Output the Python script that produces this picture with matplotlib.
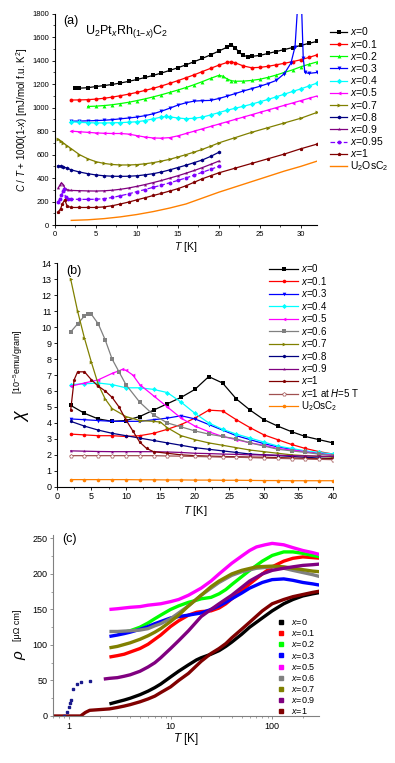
import matplotlib
matplotlib.use("Agg")
import matplotlib.pyplot as plt
from matplotlib.ticker import MultipleLocator, NullFormatter, LogLocator

plt.rcParams["font.family"] = ["Liberation Sans", "DejaVu Sans"]
plt.rcParams["mathtext.fontset"] = "custom"
plt.rcParams["mathtext.rm"] = "Liberation Sans"
plt.rcParams["mathtext.it"] = "Liberation Sans:italic"
plt.rcParams["mathtext.bf"] = "Liberation Sans:bold"

# ---------------------------------------------------------------------------
# (a) specific heat, C/T + 1000(1-x)
# ---------------------------------------------------------------------------
cp_T_x0 = [2.5, 3, 4, 5, 6, 7, 8, 9, 10, 11, 12, 13, 14, 15, 16, 17, 18, 19, 20, 21, 21.5, 22, 22.5, 23, 23.5, 24, 25, 26, 27, 28, 29, 30, 31, 32]
cp_x0 = [1165, 1166, 1170, 1180, 1188, 1198, 1210, 1224, 1240, 1257, 1275, 1295, 1317, 1340, 1365, 1392, 1420, 1450, 1482, 1515, 1535, 1510, 1470, 1445, 1435, 1437, 1445, 1462, 1478, 1495, 1512, 1530, 1548, 1565]
cp_T_x01 = [2, 3, 4, 5, 6, 7, 8, 9, 10, 11, 12, 13, 14, 15, 16, 17, 18, 19, 20, 21, 21.5, 22, 23, 24, 25, 26, 27, 28, 29, 30, 31, 32]
cp_x01 = [1065, 1066, 1068, 1073, 1080, 1090, 1102, 1115, 1130, 1147, 1165, 1185, 1207, 1230, 1255, 1280, 1308, 1335, 1362, 1385, 1390, 1382, 1355, 1340, 1343, 1352, 1365, 1378, 1392, 1408, 1428, 1450]
cp_T_x02 = [4, 5, 6, 7, 8, 9, 10, 11, 12, 13, 14, 15, 16, 17, 18, 19, 20, 20.5, 21, 21.5, 22, 23, 24, 25, 26, 27, 28, 29, 30, 31, 32]
cp_x02 = [1010, 1013, 1018, 1025, 1035, 1046, 1060, 1075, 1092, 1110, 1130, 1150, 1172, 1196, 1222, 1250, 1275, 1268, 1245, 1230, 1225, 1226, 1232, 1242, 1258, 1278, 1300, 1322, 1348, 1370, 1390]
cp_T_x03 = [2, 3, 4, 5, 6, 7, 8, 9, 10, 11, 12, 13, 14, 15, 16, 17, 18, 19, 20, 21, 22, 23, 24, 25, 26, 27, 28, 28.8, 29.3, 29.6, 30.1, 30.3, 30.5, 31, 32]
cp_x03 = [885, 886, 888, 890, 893, 898, 905, 912, 920, 932, 948, 970, 995, 1022, 1042, 1056, 1060, 1062, 1078, 1098, 1120, 1142, 1162, 1182, 1205, 1232, 1290, 1380, 1520, 1850, 1850, 1420, 1300, 1292, 1300]
cp_T_x04 = [2, 3, 4, 5, 6, 7, 8, 9, 10, 11, 12, 13, 13.5, 14, 15, 16, 17, 18, 19, 20, 21, 22, 23, 24, 25, 26, 27, 28, 29, 30, 31, 32]
cp_x04 = [880, 875, 872, 870, 870, 871, 873, 876, 880, 890, 905, 920, 925, 922, 912, 906, 910, 920, 938, 958, 978, 995, 1012, 1030, 1050, 1070, 1092, 1115, 1138, 1160, 1185, 1210]
cp_T_x05 = [2, 3, 4, 5, 6, 7, 8, 9, 10, 11, 12, 13, 14, 15, 16, 17, 18, 19, 20, 21, 22, 23, 24, 25, 26, 27, 28, 29, 30, 31, 32]
cp_x05 = [800, 795, 790, 785, 782, 780, 780, 775, 762, 750, 742, 740, 745, 760, 780, 800, 820, 840, 860, 880, 900, 920, 940, 960, 980, 1000, 1020, 1040, 1060, 1080, 1100]
cp_T_x07 = [0.4, 0.7, 1, 1.5, 2, 3, 4, 5, 6, 7, 8, 9, 10, 11, 12, 13, 14, 15, 16, 17, 18, 19, 20, 22, 24, 26, 28, 30, 32]
cp_x07 = [730, 712, 700, 675, 650, 600, 565, 540, 525, 516, 512, 512, 515, 522, 532, 545, 560, 580, 600, 622, 645, 672, 700, 745, 790, 830, 870, 910, 960]
cp_T_x08 = [0.4, 0.7, 1, 1.5, 2, 3, 4, 5, 6, 7, 8, 9, 10, 11, 12, 13, 14, 15, 16, 17, 18, 19, 20]
cp_x08 = [505, 500, 495, 485, 470, 452, 438, 427, 420, 416, 415, 416, 420, 428, 438, 452, 470, 490, 510, 532, 555, 585, 620]
cp_T_x09 = [0.4, 0.6, 0.8, 1.0, 1.3, 1.6, 2, 3, 4, 5, 6, 7, 8, 9, 10, 11, 12, 13, 14, 15, 16, 17, 18, 19, 20]
cp_x09 = [315, 340, 360, 345, 305, 298, 295, 293, 291, 290, 292, 297, 305, 316, 330, 345, 362, 380, 400, 420, 442, 465, 490, 517, 545]
cp_T_x095 = [0.4, 0.6, 0.8, 1.0, 1.1, 1.3, 1.6, 2, 3, 4, 5, 6, 7, 8, 9, 10, 11, 12, 13, 14, 15, 16, 17, 18, 19, 20]
cp_x095 = [195, 225, 255, 290, 305, 235, 225, 220, 219, 219, 220, 225, 235, 250, 266, 285, 303, 322, 340, 360, 380, 402, 425, 450, 475, 500]
cp_T_x1 = [0.4, 0.7, 0.9, 1.2, 1.5, 2, 3, 4, 5, 6, 7, 8, 9, 10, 11, 12, 13, 14, 15, 16, 17, 18, 19, 20, 22, 24, 26, 28, 30, 32]
cp_x1 = [110, 140, 180, 215, 160, 150, 150, 150, 150, 155, 165, 180, 196, 215, 233, 252, 270, 290, 310, 335, 365, 395, 420, 445, 485, 525, 565, 605, 650, 690]
cp_T_os = [2, 4, 6, 8, 10, 12, 14, 16, 18, 20, 22, 24, 26, 28, 30, 32]
cp_os = [40, 45, 55, 70, 90, 115, 145, 180, 230, 280, 325, 370, 415, 460, 500, 545]

# ---------------------------------------------------------------------------
# (b) magnetic susceptibility
# ---------------------------------------------------------------------------
chi_T = [2, 4, 6, 8, 10, 12, 14, 16, 18, 20, 22, 24, 26, 28, 30, 32, 34, 36, 38, 40]
chi_x0 = [5.1, 4.6, 4.25, 4.1, 4.15, 4.4, 4.8, 5.2, 5.6, 6.1, 6.9, 6.5, 5.5, 4.8, 4.2, 3.8, 3.45, 3.15, 2.95, 2.75]
chi_x01 = [3.3, 3.25, 3.2, 3.2, 3.15, 3.2, 3.35, 3.6, 3.9, 4.3, 4.8, 4.75, 4.2, 3.7, 3.25, 2.95, 2.65, 2.4, 2.2, 2.05]
chi_x03 = [4.25, 4.2, 4.15, 4.1, 4.1, 4.1, 4.2, 4.3, 4.45, 4.25, 3.9, 3.55, 3.2, 2.95, 2.7, 2.5, 2.35, 2.2, 2.1, 2.0]
chi_x04 = [6.4, 6.45, 6.5, 6.4, 6.2, 6.2, 6.1, 5.9, 5.3, 4.6, 4.0, 3.6, 3.3, 3.05, 2.8, 2.55, 2.4, 2.25, 2.15, 2.05]
chi_T_x05 = [2, 4, 6, 8, 9.5, 10, 11, 12, 14, 16, 18, 20, 22, 24, 26, 28, 30, 32, 34, 36, 38, 40]
chi_x05 = [6.3, 6.5, 6.7, 7.1, 7.35, 7.3, 7.0, 6.4, 5.7, 5.0, 4.3, 3.8, 3.45, 3.15, 2.95, 2.75, 2.6, 2.4, 2.3, 2.2, 2.05, 2.0]
chi_T_x06 = [2, 3, 4, 4.5, 5, 6, 7, 8, 9, 10, 12, 14, 16, 18, 20, 22, 24, 26, 28, 30, 32, 34, 36, 38, 40]
chi_x06 = [9.7, 10.2, 10.7, 10.85, 10.8, 10.2, 9.2, 8.0, 7.2, 6.4, 5.3, 4.5, 4.0, 3.75, 3.5, 3.3, 3.15, 3.0, 2.75, 2.55, 2.35, 2.25, 2.15, 2.05, 1.95]
chi_T_x07 = [2, 3, 4, 5, 6, 7, 8, 10, 12, 14, 15, 16, 18, 20, 22, 24, 26, 28, 30, 32, 34, 36, 38, 40]
chi_x07 = [13.0, 11.0, 9.3, 7.8, 6.4, 5.5, 4.9, 4.4, 4.15, 4.1, 4.05, 3.7, 3.2, 2.95, 2.75, 2.6, 2.45, 2.3, 2.2, 2.1, 2.0, 1.95, 1.9, 1.85]
chi_x08 = [4.1, 3.8, 3.55, 3.35, 3.2, 3.05, 2.9, 2.75, 2.6, 2.45, 2.35, 2.25, 2.15, 2.05, 2.0, 1.95, 1.9, 1.85, 1.8, 1.75]
chi_x09 = [2.25, 2.23, 2.21, 2.2, 2.2, 2.2, 2.2, 2.18, 2.15, 2.1, 2.08, 2.05, 2.03, 2.0, 2.0, 1.98, 1.95, 1.93, 1.92, 1.9]
chi_T_x1 = [2, 2.5, 3, 4, 5, 6, 7, 8, 9, 10, 11, 12, 13, 14, 16, 18, 20, 22, 24, 26, 28, 30, 32, 34, 36, 38, 40]
chi_x1 = [4.8, 6.7, 7.2, 7.2, 6.7, 6.3, 6.0, 5.6, 5.0, 4.2, 3.5, 2.8, 2.4, 2.2, 2.1, 2.0, 1.95, 1.92, 1.9, 1.88, 1.86, 1.85, 1.83, 1.8, 1.78, 1.76, 1.75]
chi_x1_5T = [1.95, 1.95, 1.95, 1.95, 1.95, 1.95, 1.95, 1.93, 1.92, 1.9, 1.88, 1.86, 1.85, 1.83, 1.8, 1.78, 1.76, 1.74, 1.72, 1.7]
chi_os = [0.45, 0.45, 0.45, 0.45, 0.45, 0.44, 0.44, 0.43, 0.43, 0.42, 0.42, 0.41, 0.41, 0.4, 0.39, 0.39, 0.38, 0.38, 0.38, 0.38]

# ---------------------------------------------------------------------------
# (c) resistivity
# ---------------------------------------------------------------------------
rho_T_x0 = [2.5, 3, 3.5, 4, 5, 6, 7, 8, 10, 12, 15, 18, 20, 25, 30, 35, 40, 50, 60, 80, 100, 130, 160, 200, 250, 300]
rho_x0 = [17, 20, 22.5, 25, 30, 35, 40, 45, 55, 63, 72, 79, 82, 87, 92, 98, 104, 115, 125, 138, 148, 158, 164, 169, 172, 174]
rho_T_x01 = [2.5, 3, 3.5, 4, 5, 6, 7, 8, 10, 12, 15, 18, 20, 25, 30, 35, 40, 50, 60, 80, 100, 130, 160, 200, 250, 300]
rho_x01 = [83, 85, 87, 90, 95, 101, 108, 114, 126, 134, 142, 146, 147, 148, 152, 158, 165, 176, 186, 200, 210, 218, 222, 224, 223, 222]
rho_T_x02 = [3, 3.5, 4, 5, 6, 7, 8, 10, 12, 15, 18, 20, 25, 30, 35, 40, 50, 60, 80, 100, 130, 160, 200, 250, 300]
rho_x02 = [117, 118, 120, 125, 131, 137, 142, 150, 155, 160, 163, 165, 167, 172, 178, 185, 196, 205, 218, 226, 231, 231, 229, 226, 224]
rho_T_x03 = [2.5, 3, 3.5, 4, 5, 6, 7, 8, 10, 12, 15, 20, 25, 30, 35, 40, 50, 60, 80, 100, 130, 160, 200, 250, 300]
rho_x03 = [112, 114, 116, 118, 122, 126, 130, 133, 138, 140, 142, 145, 150, 155, 160, 165, 173, 180, 188, 192, 193, 191, 188, 186, 184]
rho_T_x05 = [2.5, 3, 4, 5, 6, 8, 10, 12, 15, 20, 25, 30, 40, 50, 60, 70, 85, 100, 130, 160, 200, 250, 300]
rho_x05 = [150, 151, 153, 154, 156, 158, 161, 164, 170, 180, 190, 200, 215, 225, 233, 238, 241, 243, 241, 237, 233, 230, 227]
rho_T_x06 = [2.5, 3, 4, 5, 6, 7, 8, 10, 12, 15, 20, 25, 30, 40, 50, 70, 100, 130, 160, 200, 250, 300]
rho_x06 = [119, 119, 120, 121, 123, 127, 130, 137, 145, 155, 170, 180, 188, 198, 203, 208, 210, 208, 205, 202, 199, 196]
rho_T_x07 = [2.5, 3, 4, 5, 6, 7, 8, 10, 12, 15, 20, 25, 30, 40, 50, 70, 100, 130, 160, 200, 250, 300]
rho_x07 = [96, 98, 103, 108, 113, 118, 123, 133, 142, 155, 170, 182, 190, 200, 205, 210, 211, 210, 208, 206, 204, 203]
rho_T_x09 = [2.2, 2.5, 3, 3.5, 4, 5, 6, 7, 8, 10, 12, 15, 20, 25, 30, 40, 50, 60, 80, 100, 130, 160, 200, 250, 300]
rho_x09 = [52, 53, 54, 56, 58, 63, 69, 75, 82, 95, 106, 120, 140, 150, 158, 170, 181, 190, 200, 205, 208, 210, 212, 213, 214]
rho_T_x09_low = [0.9, 0.95, 1.0, 1.03, 1.05, 1.1, 1.2, 1.3, 1.6]
rho_x09_low = [0, 5, 12, 18, 22, 38, 45, 48, 49]
rho_T_x1 = [0.7, 1.0, 1.3, 1.45, 1.6, 2, 2.5, 3, 3.5, 4, 5, 6, 7, 8, 10, 12, 15, 20, 25, 30, 35, 40, 50, 60, 80, 100, 130, 160, 200, 250, 300]
rho_x1 = [0, 0, 0, 5, 8, 9, 10, 12, 14, 16, 20, 24, 28, 33, 41, 50, 60, 77, 88, 95, 102, 110, 122, 132, 148, 158, 164, 168, 171, 174, 176]

TICK = dict(direction="out", length=2.5, width=0.6, pad=1.5)
TICK_MIN = dict(direction="out", length=1.5, width=0.5)


def style_axes(ax, spine_color="black", labelsize=5.5):
    for side in ("top", "right"):
        ax.spines[side].set_visible(False)
    for side in ("left", "bottom"):
        ax.spines[side].set_color(spine_color)
        ax.spines[side].set_linewidth(0.8)
    ax.tick_params(which="major", labelsize=labelsize, colors=spine_color,
                   labelcolor="black", **TICK)
    ax.tick_params(which="minor", colors=spine_color, **TICK_MIN)


fig = plt.figure(figsize=(3.95, 7.63), dpi=100)

# ---------------------------- panel (a) ------------------------------------
ax_a = fig.add_axes([0.139, 0.705, 0.664, 0.277])
series_a = [
    (cp_T_x0, cp_x0, "black", "s", "-", "$x$=0"),
    (cp_T_x01, cp_x01, "#ff0000", "o", "-", "$x$=0.1"),
    (cp_T_x02, cp_x02, "#00ff00", "^", "-", "$x$=0.2"),
    (cp_T_x03, cp_x03, "#0000ff", "v", "-", "$x$=0.3"),
    (cp_T_x04, cp_x04, "#00ffff", "D", "-", "$x$=0.4"),
    (cp_T_x05, cp_x05, "#ff00ff", "<", "-", "$x$=0.5"),
    (cp_T_x07, cp_x07, "#808000", ">", "-", "$x$=0.7"),
    (cp_T_x08, cp_x08, "#000080", "h", "-", "$x$=0.8"),
    (cp_T_x09, cp_x09, "#800080", "*", "-", "$x$=0.9"),
    (cp_T_x095, cp_x095, "#8000ff", "o", "--", "$x$=0.95"),
    (cp_T_x1, cp_x1, "#800000", "p", "-", "$x$=1"),
]
for T, v, c, m, ls, lab in series_a:
    ax_a.plot(T, v, color=c, marker=m, ls=ls, lw=0.9, ms=2.8, mew=0, label=lab)
ax_a.plot(cp_T_os, cp_os, color="#ff8000", lw=1.0, label="U$_2$OsC$_2$")
ax_a.set_xlim(0, 32)
ax_a.set_ylim(0, 1800)
ax_a.xaxis.set_major_locator(MultipleLocator(5))
ax_a.xaxis.set_minor_locator(MultipleLocator(2.5))
ax_a.yaxis.set_major_locator(MultipleLocator(200))
ax_a.yaxis.set_minor_locator(MultipleLocator(100))
style_axes(ax_a, labelsize=5.5)
ax_a.set_xlabel("$T$ [K]", fontsize=7.5, labelpad=2)
ax_a.set_ylabel("$C$ / $T$ + 1000(1-$x$) [mJ/mol f.u. K$^2$]", fontsize=7, labelpad=2)
ax_a.text(0.03, 0.995, "(a)", transform=ax_a.transAxes, fontsize=9, va="top")
ax_a.text(0.115, 0.915, "U$_2$Pt$_x$Rh$_{(1\\mathrm{-}x)}$C$_2$", transform=ax_a.transAxes,
          fontsize=9, va="center")
ax_a.legend(loc="upper left", bbox_to_anchor=(1.05, 0.945), frameon=False,
            fontsize=7.5, handlelength=1.6, handletextpad=0.3, labelspacing=0.02,
            borderaxespad=0, borderpad=0)

# ---------------------------- panel (b) ------------------------------------
ax_b = fig.add_axes([0.144, 0.362, 0.699, 0.293])
series_b = [
    (chi_T, chi_x0, "black", "s", "$x$=0"),
    (chi_T, chi_x01, "#ff0000", "o", "$x$=0.1"),
    (chi_T, chi_x03, "#0000ff", "v", "$x$=0.3"),
    (chi_T, chi_x04, "#00ffff", "D", "$x$=0.4"),
    (chi_T_x05, chi_x05, "#ff00ff", "<", "$x$=0.5"),
    (chi_T_x06, chi_x06, "#808080", "s", "$x$=0.6"),
    (chi_T_x07, chi_x07, "#808000", ">", "$x$=0.7"),
    (chi_T, chi_x08, "#000080", "h", "$x$=0.8"),
    (chi_T, chi_x09, "#800080", "*", "$x$=0.9"),
    (chi_T_x1, chi_x1, "#800000", "p", "$x$=1"),
]
for T, v, c, m, lab in series_b:
    ax_b.plot(T, v, color=c, marker=m, lw=0.9, ms=2.6, mew=0, label=lab)
ax_b.plot(chi_T, chi_x1_5T, color="#a05050", marker="p", lw=0.9, ms=2.8,
          mfc="white", mew=0.5, label="$x$=1 at $H$=5 T")
ax_b.plot(chi_T, chi_os, color="#ff8000", marker="o", lw=0.9, ms=2.6, mew=0,
          label="U$_2$OsC$_2$")
ax_b.set_xlim(0, 40)
ax_b.set_ylim(0, 14)
ax_b.xaxis.set_major_locator(MultipleLocator(5))
ax_b.xaxis.set_minor_locator(MultipleLocator(2.5))
ax_b.yaxis.set_major_locator(MultipleLocator(1))
style_axes(ax_b, labelsize=6.5)
ax_b.set_xlabel("$T$ [K]", fontsize=8, labelpad=2)
ax_b.set_ylabel("[10$^{-5}$emu/gram]", fontsize=6.5, labelpad=4)
ax_b.yaxis.set_label_coords(-0.115, 0.56)
ax_b.text(-0.125, 0.32, r"$\chi$", transform=ax_b.transAxes, fontsize=13,
          rotation=90, ha="center", va="center")
ax_b.text(0.035, 0.99, "(b)", transform=ax_b.transAxes, fontsize=9, va="top")
ax_b.legend(loc="upper left", bbox_to_anchor=(0.77, 1.005), frameon=False,
            fontsize=7, handlelength=2.9, handletextpad=0.3, labelspacing=0.05,
            borderaxespad=0, borderpad=0)

# ---------------------------- panel (c) ------------------------------------
ax_c = fig.add_axes([0.134, 0.0616, 0.674, 0.2374])
series_c = [
    (rho_T_x0, rho_x0, "black", "$x$=0"),
    (rho_T_x01, rho_x01, "#ff0000", "$x$=0.1"),
    (rho_T_x02, rho_x02, "#00ff00", "$x$=0.2"),
    (rho_T_x03, rho_x03, "#0000ff", "$x$=0.3"),
    (rho_T_x05, rho_x05, "#ff00ff", "$x$=0.5"),
    (rho_T_x06, rho_x06, "#808080", "$x$=0.6"),
    (rho_T_x07, rho_x07, "#808000", "$x$=0.7"),
    (rho_T_x09, rho_x09, "#800080", "$x$=0.9"),
    (rho_T_x1, rho_x1, "#800000", "$x$=1"),
]
for T, v, c, lab in series_c:
    ax_c.plot(T, v, color=c, lw=2.4, solid_capstyle="butt", solid_joinstyle="round")
    ax_c.plot([], [], color=c, marker="s", ls="none", ms=3.5, label=lab)
ax_c.plot(rho_T_x09_low, rho_x09_low, color="#1a1a8c", marker="s", ls="none", ms=1.8)
ax_c.set_xscale("log")
ax_c.set_xlim(0.695, 290)
ax_c.set_ylim(0, 255)
ax_c.xaxis.set_major_locator(LogLocator(base=10))
ax_c.xaxis.set_minor_locator(LogLocator(base=10, subs=range(2, 10)))
ax_c.xaxis.set_minor_formatter(NullFormatter())
ax_c.set_xticks([1, 10, 100])
ax_c.set_xticklabels(["1", "10", "100"])
ax_c.yaxis.set_major_locator(MultipleLocator(50))
ax_c.yaxis.set_minor_locator(MultipleLocator(25))
style_axes(ax_c, spine_color="#808080", labelsize=6.5)
ax_c.set_xlabel("$T$ [K]", fontsize=8.5, labelpad=0)
ax_c.set_ylabel("[μΩ cm]", fontsize=6.5)
ax_c.yaxis.set_label_coords(-0.115, 0.5)
ax_c.text(-0.12, 0.34, r"$\rho$", transform=ax_c.transAxes, fontsize=11,
          rotation=90, ha="center", va="center")
ax_c.text(0.035, 1.01, "(c)", transform=ax_c.transAxes, fontsize=9, va="top")
ax_c.legend(loc="lower left", bbox_to_anchor=(0.84, 0.0), frameon=False,
            fontsize=6.5, handlelength=1.0, handletextpad=0.6, labelspacing=0.12,
            borderaxespad=0, borderpad=0)

fig.savefig("out.png", dpi=100)
